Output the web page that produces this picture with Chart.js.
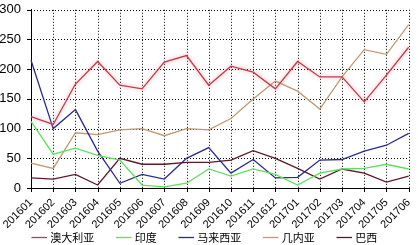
<!DOCTYPE html>
<html>
<head>
<meta charset="utf-8">
<script src="https://cdn.jsdelivr.net/npm/chart.js@4.4.0/dist/chart.umd.min.js"></script>
<style>
  html, body { margin: 0; padding: 0; background: #fff; }
  #wrap { width: 418px; height: 245px; }
</style>
</head>
<body>
<div id="wrap"><canvas id="lineChart"></canvas></div>
<script>
var months = ['201601','201602','201603','201604','201605','201606','201607','201608','201609',
              '201610','201611','201612','201701','201702','201703','201704','201705','201706'];
var australia = [120, 107, 175, 213, 173, 167, 212, 223, 173, 205, 195, 167, 213, 187, 187, 145, 190, 237];
var india     = [112, 57, 67, 55, 47, 5, 2, 8, 32, 20, 32, 23, 5, 25, 32, 33, 40, 32];
var malaysia  = [215, 100, 132, 62, 8, 23, 15, 50, 68, 25, 48, 17, 18, 47, 48, 62, 72, 92];
var guinea    = [42, 33, 93, 90, 98, 100, 88, 100, 98, 117, 150, 180, 163, 133, 187, 233, 225, 275];
var brazil    = [17, 15, 23, 5, 50, 40, 40, 43, 43, 47, 63, 50, 33, 15, 32, 25, 10, 20];
var yTicks = [0, 50, 100, 150, 200, 250, 300];

function series(label, data, color) {
  return {
    label: label,
    data: data,
    borderColor: color,
    backgroundColor: color,
    borderWidth: 1.3,
    pointRadius: 0,
    tension: 0,
    fill: false
  };
}

// soft pink halo around the Australia line
var glow = {
  id: 'glow',
  beforeDatasetDraw: function(chart, args) {
    if (args.index === 0) {
      chart.ctx.save();
      chart.ctx.shadowColor = 'rgba(255,120,140,0.8)';
      chart.ctx.shadowBlur = 4;
    }
  },
  afterDatasetDraw: function(chart, args) {
    if (args.index === 0) chart.ctx.restore();
  }
};

// x axis is squeezed so the legend sits close; let its rotated labels spill below without clipping
var labelRoom = {
  id: 'labelRoom',
  afterLayout: function(chart) {
    chart.scales.x.bottom = chart.height;
  }
};

// dotted grid + small tick marks at every scale tick
var dottedGrid = {
  id: 'dottedGrid',
  beforeDatasetsDraw: function(chart) {
    var c = chart.ctx, a = chart.chartArea;
    var xs = chart.scales.x, ys = chart.scales.y;
    var xp = xs.ticks.map(function(t, i) { return Math.round(xs.getPixelForTick(i)) + 0.5; });
    var yp = ys.ticks.map(function(t, i) { return Math.round(ys.getPixelForTick(i)) + 0.5; });
    c.save();
    c.strokeStyle = '#000';
    c.lineWidth = 1;
    c.setLineDash([1, 2]);
    c.beginPath();
    xp.forEach(function(x) { c.moveTo(x, a.top); c.lineTo(x, a.bottom); });
    yp.forEach(function(y) { c.moveTo(a.left, y); c.lineTo(a.right, y); });
    c.stroke();
    c.setLineDash([]);
    c.beginPath();
    xp.forEach(function(x) { c.moveTo(x, a.bottom); c.lineTo(x, a.bottom + 4); });
    yp.forEach(function(y) { c.moveTo(a.left - 4, y); c.lineTo(a.left, y); });
    c.stroke();
    c.restore();
  }
};

var ctx = document.getElementById('lineChart').getContext('2d');
var lineChart = new Chart(ctx, {
  type: 'line',
  data: {
    labels: months,
    datasets: [
      series('澳大利亚', australia, '#b8404c'),
      series('印度', india, '#5ee05e'),
      series('马来西亚', malaysia, '#2a2a90'),
      series('几内亚', guinea, '#c09a70'),
      series('巴西', brazil, '#5a1a28')
    ]
  },
  plugins: [glow, labelRoom, dottedGrid],
  options: {
    responsive: true,
    maintainAspectRatio: false,
    animation: false,
    layout: { padding: { top: -2, right: 7, left: 0, bottom: -8 } },
    plugins: {
      legend: {
        position: 'bottom',
        labels: {
          usePointStyle: true,
          pointStyle: 'line',
          boxWidth: 12,
          padding: 24,
          color: '#000',
          font: { family: '"Noto Sans CJK SC", "Liberation Sans", sans-serif', size: 11 }
        }
      },
      tooltip: { enabled: false }
    },
    scales: {
      x: {
        offset: false,
        afterFit: function(scale) { scale.height = 20; },
        ticks: {
          autoSkip: false,
          minRotation: 45,
          maxRotation: 45,
          color: '#000',
          padding: 0,
          font: { family: '"Liberation Sans", Arial, sans-serif', size: 11 }
        },
        grid: { display: false },
        border: { display: true, color: '#000', width: 1 }
      },
      y: {
        min: 0,
        max: 300,
        afterBuildTicks: function(scale) {
          scale.ticks = yTicks.map(function(v) { return { value: v }; });
        },
        afterFit: function(scale) { scale.width = 31; },
        ticks: {
          color: '#000',
          padding: 2,
          font: { family: '"Liberation Sans", Arial, sans-serif', size: 13 }
        },
        grid: { display: false },
        border: { display: true, color: '#000', width: 1 }
      }
    }
  }
});
</script>
</body>
</html>
